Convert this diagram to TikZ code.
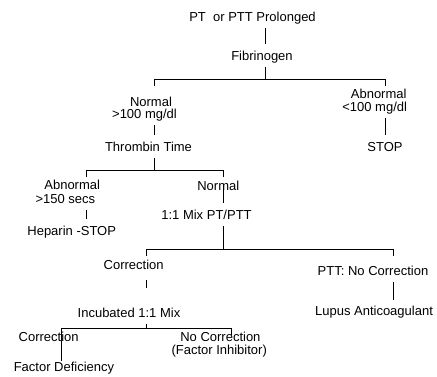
\documentclass[tikz,border=0pt]{standalone}
\usepackage{fontspec}
\setmainfont{Liberation Sans}
\begin{document}
\begin{tikzpicture}[x=1pt,y=-1pt,
    txt/.style={font=\fontsize{13}{13}\selectfont, anchor=base, text height=9.3pt, text depth=0pt,
      inner xsep=0pt, inner ysep=6.5pt, outer sep=0pt},
    wire/.style={line width=1pt}]
  \useasboundingbox (0,0) rectangle (437,376);
  % labels
  \node[txt] (pt) at (252.5,21.5) {PT\ \ or PTT Prolonged};
  \node[txt] (fib) at (262,60) {Fibrinogen};
  \node[txt] (nrm1) at (151,106) {Normal};
  \node[txt] (gt100) at (144.5,118.5) {>100 mg/dl};
  \node[txt] (abn1) at (378.7,98) {Abnormal};
  \node[txt] (lt100) at (374.7,111) {<100 mg/dl};
  \node[txt] (thrombin) at (148.5,151) {Thrombin Time};
  \node[txt] (stop1) at (385,151) {STOP};
  \node[txt] (abn2) at (72.2,189.5) {Abnormal};
  \node[txt] (gt150) at (65.4,203) {>150 secs};
  \node[txt] (nrm2) at (218.3,190) {Normal};
  \node[txt] (heparin) at (71.7,235) {Heparin -STOP};
  \node[txt] (mix) at (206.5,219) {1:1 Mix PT/PTT};
  \node[txt] (corr1) at (133.7,269.5) {Correction};
  \node[txt] (ptt) at (373,275) {PTT: No Correction};
  \node[txt] (incub) at (129,317) {Incubated 1:1 Mix};
  \node[txt] (lupus) at (374,315.5) {Lupus Anticoagulant};
  \node[txt] (corr2) at (48.7,341) {Correction};
  \node[txt] (nocorr) at (220.4,341.5) {No Correction};
  \node[txt] (inhib) at (219.2,354) {(Factor Inhibitor)};
  \node[txt] (factdef) at (64,371.5) {Factor Deficiency};
  % forks
  \coordinate (f1) at (265.5,79); \coordinate (f1l) at (154,79); \coordinate (f1r) at (385,79);
  \coordinate (f2) at (154,170); \coordinate (f2l) at (86,170); \coordinate (f2r) at (223,170);
  \coordinate (f3) at (223,249); \coordinate (f3l) at (146,249); \coordinate (f3r) at (393,249);
  \coordinate (f4) at (146,328); \coordinate (f4l) at (61,328); \coordinate (f4r) at (231,328);
  \foreach \l/\r in {f1l/f1r,f2l/f2r,f3l/f3r}{\draw[wire] ([yshift=-6.5pt]\l) |- (\r) -- ++(0,-6.5pt);}
  % links
  \draw[wire] (pt.south -| f1) -- (fib.north -| f1);
  \draw[wire] (fib.south -| f1) -- (f1);
  \draw[wire] (gt100.south -| f1l) -- (thrombin.north -| f1l);
  \draw[wire] (lt100.south -| f1r) -- (stop1.north -| f1r);
  \draw[wire] (thrombin.south -| f2) -- (f2);
  \draw[wire] (gt150.south -| f2l) -- (heparin.north -| f2l);
  \draw[wire] (nrm2.center -| f2r) -- (mix.north -| f2r);
  \draw[wire] (mix.south -| f3) -- (f3);
  \draw[wire, shorten <=4pt, shorten >=13pt] (corr1.south -| f3l) -- (incub.north -| f3l);
  \draw[wire] (incub.south -| f4) -- (f4);
  \draw[wire] (ptt.south -| f3r) -- (lupus.north -| f3r);
  \draw[wire, shorten <=-5pt] (factdef.north -| f4l) |- (f4r) -- ++(0,-6.5pt);
\end{tikzpicture}
\end{document}
